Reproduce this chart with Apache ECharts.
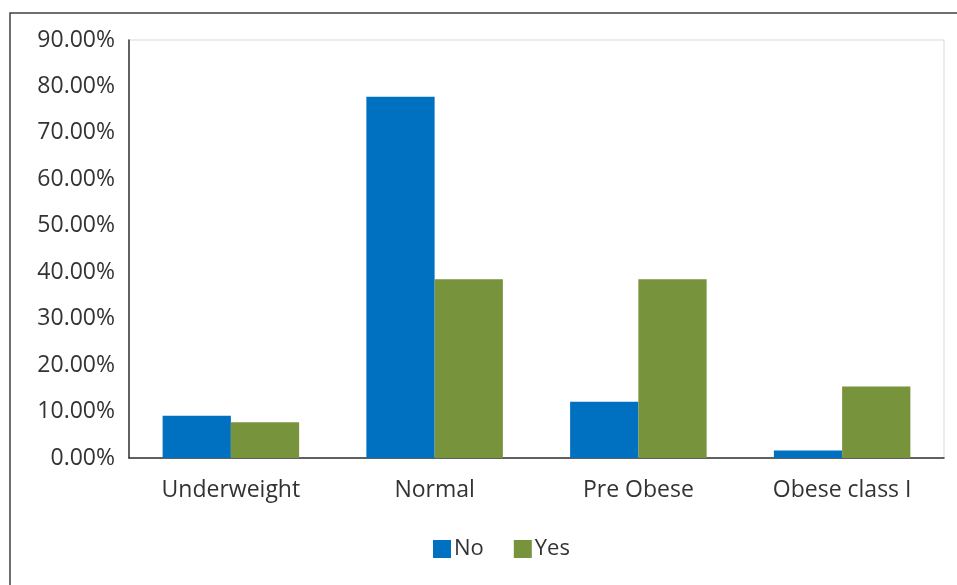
<!DOCTYPE html>
<html>
	<head>
		<meta charset="UTF-8" />
		<title>BMI category by group</title>
		<style>
			html, body { margin: 0; padding: 0; background: #fff; }
			#chart { width: 957px; height: 585px; }
		</style>
	</head>
	<body>
		<div id="chart"></div>
		<script type="text/javascript" src="https://cdn.jsdelivr.net/npm/echarts@6/dist/echarts.min.js"></script>
		<script type="text/javascript">
			// data (percent)
			const categories = ["Underweight", "Normal", "Pre Obese", "Obese class I"];
			const noValues = [9.1, 77.8, 12.1, 1.6];
			const yesValues = [7.7, 38.5, 38.5, 15.4];
			const seriesNames = ["No", "Yes"];

			const font = "Open Sans";
			const chart = echarts.init(document.getElementById("chart"));
			chart.setOption({
				animation: false,
				textStyle: { fontFamily: font },
				graphic: [{
					type: "rect",
					shape: { x: 10, y: 13, width: 1000, height: 700 },
					style: { fill: "none", stroke: "#404040", lineWidth: 1.5 },
					silent: true
				}],
				grid: {
					left: 129, top: 40, right: 13, bottom: 127,
					show: true, borderColor: "#d9d9d9", borderWidth: 1
				},
				legend: {
					data: seriesNames,
					top: 533,
					left: 428,
					itemWidth: 18, itemHeight: 18, itemGap: 30,
					icon: "rect",
					textStyle: { fontSize: 22, color: "#333", fontFamily: font, padding: [0, 0, 0, -2] }
				},
				xAxis: {
					type: "category",
					data: categories,
					axisLine: { lineStyle: { color: "#333", width: 1.5 } },
					axisTick: { show: false },
					axisLabel: { fontSize: 23, color: "#333", margin: 21 }
				},
				yAxis: {
					type: "value",
					min: 0, max: 90, interval: 10,
					splitLine: { show: false },
					axisLine: { show: true, lineStyle: { color: "#333", width: 1.5 } },
					axisTick: { show: false },
					axisLabel: {
						fontSize: 23, color: "#333", margin: 14,
						formatter: function(v) { return v.toFixed(2) + "%"; }
					}
				},
				series: [{
					name: seriesNames[0], type: "bar", data: noValues,
					itemStyle: { color: "#0070C0" },
					barGap: "0%", barCategoryGap: "33%"
				}, {
					name: seriesNames[1], type: "bar", data: yesValues,
					itemStyle: { color: "#77933C" },
					barGap: "0%", barCategoryGap: "33%"
				}]
			});
		</script>
	</body>
</html>
